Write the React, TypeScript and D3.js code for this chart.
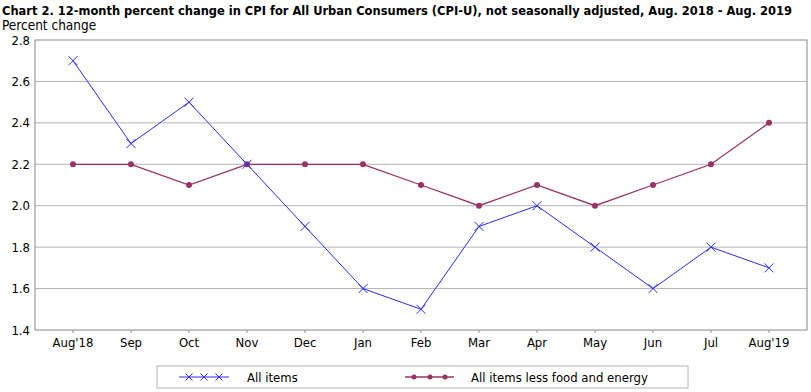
import React from "react";
import * as d3 from "d3";

const months = ["Aug'18", "Sep", "Oct", "Nov", "Dec", "Jan", "Feb", "Mar", "Apr", "May", "Jun", "Jul", "Aug'19"];
const allItems = [2.7, 2.3, 2.5, 2.2, 1.9, 1.6, 1.5, 1.9, 2.0, 1.8, 1.6, 1.8, 1.7];
const coreItems = [2.2, 2.2, 2.1, 2.2, 2.2, 2.2, 2.1, 2.0, 2.1, 2.0, 2.1, 2.2, 2.4];
const yTicks = [1.4, 1.6, 1.8, 2.0, 2.2, 2.4, 2.6, 2.8];
const seriesNames = ["All items", "All items less food and energy"];

const W = 811, H = 392;
const L = 35, R = 807, T = 40, B = 330;
const BLUE = "#2a2aff";
const MAROON = "#993366";
const FONT = "'DejaVu Sans Condensed', 'DejaVu Sans', sans-serif";

export default function App() {
  const x = d3.scalePoint<string>().domain(months).range([L, R]).padding(0.655);
  const y = d3.scaleLinear().domain([1.4, 2.8]).range([B, T]);
  const line = d3.line<number>().x((_, i) => x(months[i]) as number).y((d) => y(d));

  const Xmark = ({ cx, cy, s = 4.5 }: { cx: number; cy: number; s?: number }) => (
    <path d={`M${cx - s},${cy - s}L${cx + s},${cy + s}M${cx - s},${cy + s}L${cx + s},${cy - s}`} stroke={BLUE} strokeWidth={1} fill="none" />
  );

  return (
    <svg width={W} height={H} style={{ position: "absolute", left: 0, top: 0, background: "#fff" }} fontFamily={FONT}>
      <text x={2} y={15} fontSize={13} fontWeight="bold" fill="#000" textLength={790} lengthAdjust="spacingAndGlyphs">
        Chart 2. 12-month percent change in CPI for All Urban Consumers (CPI-U), not seasonally adjusted, Aug. 2018 - Aug. 2019
      </text>
      <text x={2} y={30} fontSize={13.5} fill="#000">Percent change</text>

      {yTicks.map((t) => (
        <g key={t}>
          {t > 1.4 && t < 2.8 && <line x1={L} x2={R} y1={y(t)} y2={y(t)} stroke="#b4b4b4" strokeWidth={1} />}
          <text x={30} y={y(t) + 4.5} fontSize={13} textAnchor="end" fill="#000">{t.toFixed(1)}</text>
        </g>
      ))}
      <rect x={L} y={T} width={R - L} height={B - T} fill="none" stroke="#888" strokeWidth={1} />
      {months.map((m) => (
        <g key={m}>
          <line x1={x(m)} x2={x(m)} y1={B} y2={B + 3} stroke="#888" />
          <text x={x(m)} y={B + 17} fontSize={13} textAnchor="middle" fill="#000">{m}</text>
        </g>
      ))}

      <path d={line(coreItems) || ""} fill="none" stroke={MAROON} strokeWidth={1.3} />
      {coreItems.map((v, i) => (
        <circle key={i} cx={x(months[i])} cy={y(v)} r={3} fill={MAROON} />
      ))}
      <path d={line(allItems) || ""} fill="none" stroke={BLUE} strokeWidth={1} />
      {allItems.map((v, i) => (
        <Xmark key={i} cx={x(months[i]) as number} cy={y(v)} />
      ))}

      <rect x={157} y={366} width={531} height={22} fill="#fff" stroke="#b4b4b4" />
      <line x1={179} x2={229} y1={377} y2={377} stroke={BLUE} />
      {[189, 204, 219].map((cx) => <Xmark key={cx} cx={cx} cy={377} s={3.5} />)}
      <text x={247} y={382} fontSize={13} fill="#000">{seriesNames[0]}</text>
      <line x1={405} x2={454} y1={377} y2={377} stroke={MAROON} strokeWidth={1.3} />
      {[414, 430, 445].map((cx) => <circle key={cx} cx={cx} cy={377} r={2.5} fill={MAROON} />)}
      <text x={471} y={382} fontSize={13} fill="#000">{seriesNames[1]}</text>
    </svg>
  );
}
